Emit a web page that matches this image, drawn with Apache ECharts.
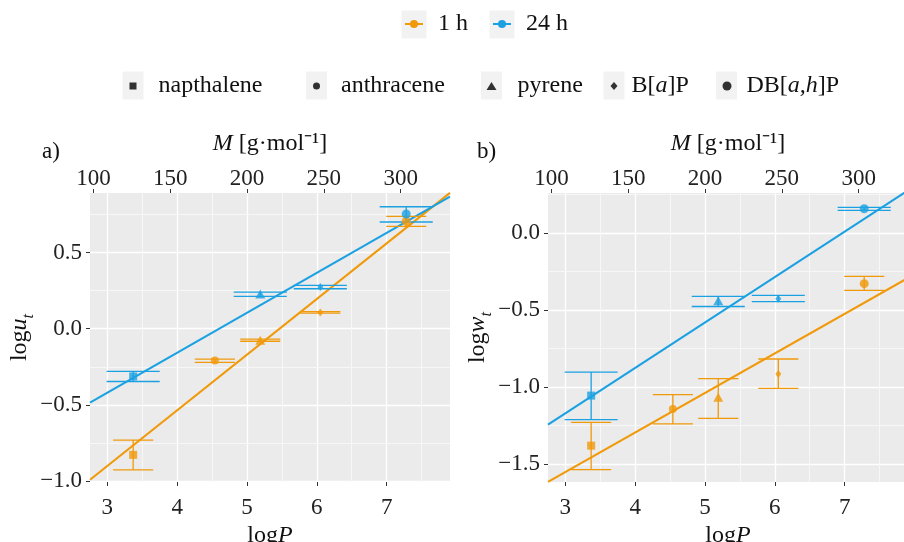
<!DOCTYPE html>
<html>
<head>
<meta charset="UTF-8">
<title></title>
<script src="https://cdn.jsdelivr.net/npm/echarts@6/dist/echarts.min.js"></script>
</head>
<body style="margin:0;background:#fff;">
<div id="chart" style="width:904px;height:542px;"></div>
<script>
// compounds, x position = logP
var compounds = ['napthalene', 'anthracene', 'pyrene', 'B[a]P', 'DB[a,h]P'];
var logP = [3.37, 4.54, 5.19, 6.05, 7.28];
var hours = ['1 h', '24 h'];

// a) log u_t : mean, lower, upper
var u1h   = [-0.827, -0.208, -0.075, 0.107, 0.705];
var u1hLo = [-0.925, -0.220, -0.082, 0.102, 0.671];
var u1hHi = [-0.730, -0.199, -0.068, 0.112, 0.737];
var u24h   = [-0.313, null, 0.228, 0.274, 0.752];
var u24hLo = [-0.346, null, 0.212, 0.262, 0.700];
var u24hHi = [-0.280, null, 0.240, 0.284, 0.800];

// b) log w_t : mean, lower, upper
var w1h   = [-1.381, -1.143, -1.067, -0.916, -0.329];
var w1hLo = [-1.537, -1.240, -1.204, -1.009, -0.373];
var w1hHi = [-1.230, -1.050, -0.946, -0.818, -0.281];
var w24h   = [-1.056, null, -0.440, -0.427, 0.158];
var w24hLo = [-1.212, null, -0.477, -0.446, 0.147];
var w24hHi = [-0.903, null, -0.412, -0.405, 0.166];

// regression lines [slope, intercept]
var fitU1h  = [0.365, -1.995];
var fitU24h = [0.262, -1.205];
var fitW1h  = [0.257, -2.324];
var fitW24h = [0.295, -2.056];

// ticks
var logPTicks = [3, 4, 5, 6, 7];
var logPMinor = [3.5, 4.5, 5.5, 6.5, 7.5];
var massTicks = [100, 150, 200, 250, 300];
var uTicks = [-1.0, -0.5, 0.0, 0.5];
var uMinor = [-0.75, -0.25, 0.25, 0.75];
var wTicks = [-1.5, -1.0, -0.5, 0.0];
var wMinor = [-1.25, -0.75, -0.25, 0.25];

// layout / style
var xRange = [2.752, 7.907];
var mRange = [97.8, 332.1];
var uRange = [-1.005, 0.89];
var wRange = [-1.617, 0.26];
var FONT = 'Liberation Serif';
var colors = ['#f0990a', '#1ba1e2'];
var capHalf = [0.287, 0.38];
var shapes = {
	'napthalene': ['rect', 8],
	'anthracene': ['circle', 8],
	'pyrene': ['triangle', [10, 9]],
	'B[a]P': ['diamond', [6, 8]],
	'DB[a,h]P': ['circle', 9]
};

var panels = [
	{ mean: [u1h, u24h], lo: [u1hLo, u24hLo], hi: [u1hHi, u24hHi], fit: [fitU1h, fitU24h], minorY: uMinor },
	{ mean: [w1h, w24h], lo: [w1hLo, w24hLo], hi: [w1hHi, w24hHi], fit: [fitW1h, fitW24h], minorY: wMinor }
];

function fmt(v) {
	return (v < 0 ? '\u2212' : '') + Math.abs(v).toFixed(1);
}

function errorBarItem(half, color) {
	return function (params, api) {
		var x = api.value(0);
		var top = api.coord([x, api.value(2)]);
		var bot = api.coord([x, api.value(1)]);
		var l = api.coord([x - half, 0])[0];
		var r = api.coord([x + half, 0])[0];
		var st = { stroke: color, lineWidth: 1.3 };
		return {
			type: 'group',
			children: [
				{ type: 'line', shape: { x1: top[0], y1: top[1], x2: bot[0], y2: bot[1] }, style: st },
				{ type: 'line', shape: { x1: l, y1: top[1], x2: r, y2: top[1] }, style: st },
				{ type: 'line', shape: { x1: l, y1: bot[1], x2: r, y2: bot[1] }, style: st }
			]
		};
	};
}

var labelStyle = { color: '#222', fontSize: 23, fontFamily: FONT };
var tickStyle = { show: true, length: 4, lineStyle: { color: '#333', width: 1 } };
var nameRich = {
	i: { fontStyle: 'italic', fontSize: 24, fontFamily: FONT, color: '#111' },
	sub: { fontStyle: 'italic', fontSize: 16, fontFamily: FONT, color: '#111', verticalAlign: 'bottom', lineHeight: 16 }
};

var grids = [
	{ left: 90, top: 193, width: 360, height: 289 },
	{ left: 548, top: 193, width: 360, height: 289 }
];
grids.forEach(function (g) {
	g.show = true; g.backgroundColor = '#ebebeb'; g.borderWidth = 0;
	g.containLabel = false; g.outerBoundsMode = 'none';
});

var xAxes = [], yAxes = [], series = [];
[0, 1].forEach(function (p) {
	xAxes.push({
		type: 'value', gridIndex: p, position: 'bottom', min: xRange[0], max: xRange[1],
		name: 'log{i|P}', nameLocation: 'middle', nameGap: 37,
		nameTextStyle: { fontSize: 24, fontFamily: FONT, color: '#111', rich: nameRich },
		axisLine: { show: false, onZero: false },
		axisTick: Object.assign({ customValues: logPTicks }, tickStyle),
		axisLabel: Object.assign({ customValues: logPTicks, margin: 14 }, labelStyle),
		splitLine: { show: true, lineStyle: { color: '#fff', width: 1.3 } }
	});
	xAxes.push({
		type: 'value', gridIndex: p, position: 'top', min: mRange[0], max: mRange[1],
		name: '{i|M} [g·mol⁻¹]', nameLocation: 'middle', nameGap: 37,
		nameTextStyle: { fontSize: 24, fontFamily: FONT, color: '#111', rich: nameRich },
		axisLine: { show: false, onZero: false },
		axisTick: Object.assign({ customValues: massTicks }, tickStyle),
		axisLabel: Object.assign({ customValues: massTicks, margin: 3 }, labelStyle),
		splitLine: { show: false }
	});
	yAxes.push({
		type: 'value', gridIndex: p, min: p ? wRange[0] : uRange[0], max: p ? wRange[1] : uRange[1],
		name: p ? 'log{i|w}{sub|t}' : 'log{i|u}{sub|t}', nameLocation: 'middle', nameGap: 50, nameRotate: 90,
		nameTextStyle: { fontSize: 24, fontFamily: FONT, color: '#111', lineHeight: 34, rich: nameRich },
		axisLine: { show: false, onZero: false },
		axisTick: Object.assign({ customValues: p ? wTicks : uTicks }, tickStyle),
		axisLabel: Object.assign({ customValues: p ? wTicks : uTicks, margin: 8, formatter: fmt }, labelStyle),
		splitLine: { show: true, lineStyle: { color: '#fff', width: 1.3 } }
	});

	var pan = panels[p];
	// minor grid lines, kept under the marks
	series.push({
		type: 'line', xAxisIndex: 2 * p, yAxisIndex: p, data: [], z: 1, silent: true,
		markLine: {
			z: 1, silent: true, symbol: ['none', 'none'], label: { show: false },
			lineStyle: { color: '#f7f7f7', width: 1, type: 'solid' },
			data: logPMinor.map(function (v) { return { xAxis: v }; })
				.concat(pan.minorY.map(function (v) { return { yAxis: v }; }))
		}
	});

	[0, 1].forEach(function (h) {
		var f = pan.fit[h];
		series.push({
			name: hours[h], type: 'line', xAxisIndex: 2 * p, yAxisIndex: p,
			data: [[xRange[0], f[0] * xRange[0] + f[1]], [xRange[1], f[0] * xRange[1] + f[1]]],
			symbol: 'circle', showSymbol: false, silent: true, clip: true, z: 3,
			lineStyle: { color: colors[h], width: 2.1 }, itemStyle: { color: colors[h] }
		});
		var bars = [];
		compounds.forEach(function (c, i) {
			if (pan.mean[h][i] !== null) bars.push([logP[i], pan.lo[h][i], pan.hi[h][i]]);
		});
		series.push({
			type: 'custom', xAxisIndex: 2 * p, yAxisIndex: p, data: bars, z: 4, clip: true, silent: true,
			encode: { x: 0, y: [1, 2] },
			renderItem: errorBarItem(capHalf[h], colors[h])
		});
		compounds.forEach(function (c, i) {
			if (pan.mean[h][i] === null) return;
			series.push({
				name: c, type: 'scatter', xAxisIndex: 2 * p, yAxisIndex: p, z: 5, silent: true,
				symbol: shapes[c][0], symbolSize: shapes[c][1],
				itemStyle: { color: colors[h] },
				data: [[logP[i], pan.mean[h][i]]]
			});
		});
	});
});

var legendRich = {
	n: { fontSize: 24, fontFamily: FONT, color: '#111' },
	i: { fontSize: 24, fontFamily: FONT, color: '#111', fontStyle: 'italic' }
};
function legendName(name) {
	if (name === 'B[a]P') return '{n|B[}{i|a}{n|]P}';
	if (name === 'DB[a,h]P') return '{n|DB[}{i|a,h}{n|]P}';
	return '{n|' + name + '}';
}
// icon left, icon size, extra text offset
var legendPos = [
	{ name: '1 h', left: 404, top: 12, w: 18, hgt: 10, pad: 10 },
	{ name: '24 h', left: 492, top: 12, w: 18, hgt: 10, pad: 10 },
	{ name: 'napthalene', left: 129.5, top: 74, w: 7, hgt: 7, pad: 17 },
	{ name: 'anthracene', left: 313, top: 74, w: 7, hgt: 7, pad: 16 },
	{ name: 'pyrene', left: 486.5, top: 74, w: 10, hgt: 8, pad: 16 },
	{ name: 'B[a]P', left: 610.5, top: 74, w: 7, hgt: 8, pad: 9 },
	{ name: 'DB[a,h]P', left: 722.5, top: 74, w: 9, hgt: 9, pad: 10 }
];
var legends = legendPos.map(function (lp, k) {
	var item = { name: lp.name };
	if (k > 1) item.itemStyle = { color: '#000' };
	return {
		data: [item], left: lp.left, top: lp.top, padding: 0, orient: 'horizontal',
		itemWidth: lp.w, itemHeight: lp.hgt, selectedMode: false,
		formatter: legendName,
		textStyle: { fontSize: 24, fontFamily: FONT, color: '#111', padding: [0, 0, 0, lp.pad], rich: legendRich }
	};
});

// grey legend key backgrounds
var keyBoxes = [[401.5, 10.5, 25, 28], [489.5, 10.5, 25, 28],
	[122.5, 71.5, 21, 28], [306, 71.5, 21, 28], [481, 71.5, 21, 28], [603.5, 71.5, 21, 28], [716, 71.5, 21, 28]];

var option = {
	animation: false,
	textStyle: { fontFamily: FONT },
	title: [
		{ text: 'a)', left: 37, top: 135, textStyle: { fontSize: 23, fontWeight: 'normal', fontFamily: FONT, color: '#111' } },
		{ text: 'b)', left: 472, top: 135, textStyle: { fontSize: 23, fontWeight: 'normal', fontFamily: FONT, color: '#111' } }
	],
	graphic: keyBoxes.map(function (b) {
		return { type: 'rect', left: b[0], top: b[1], shape: { width: b[2], height: b[3] }, style: { fill: '#f2f2f2' }, z: -1, silent: true };
	}),
	legend: legends,
	grid: grids,
	xAxis: xAxes,
	yAxis: yAxes,
	series: series
};

var myChart = echarts.init(document.getElementById('chart'));
myChart.setOption(option);
</script>
</body>
</html>
